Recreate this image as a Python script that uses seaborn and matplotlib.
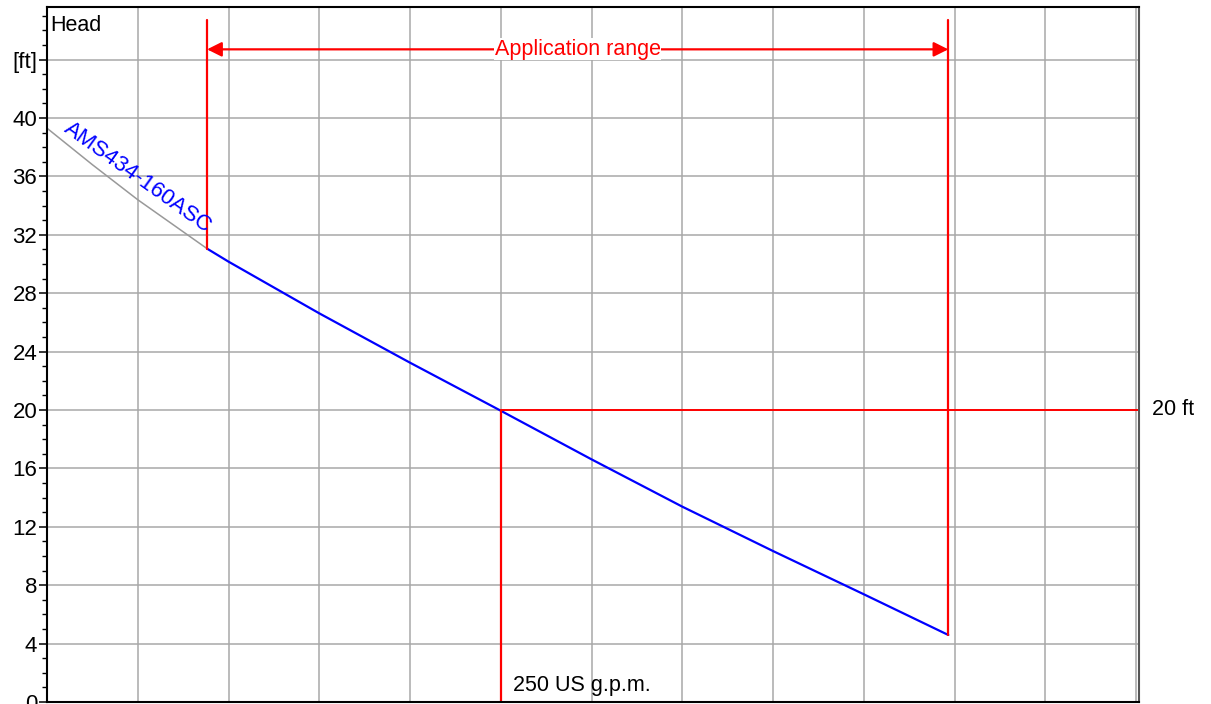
import matplotlib
matplotlib.use("Agg")
import matplotlib.pyplot as plt
import matplotlib.transforms as mtransforms
import seaborn as sns
import pandas as pd
import numpy as np

# ---- data ----
curve_name = "AMS434-160ASC"
gray_flow = [0, 25, 50, 88.2]
gray_head = [39.3, 36.8, 34.4, 31.05]
blue_flow = [88.2, 100, 150, 200, 250, 300, 350, 400, 450, 496.6]
blue_head = [31.05, 30.16, 26.62, 23.24, 19.95, 16.62, 13.38, 10.34, 7.38, 4.59]
app_range = [88.2, 496.6]
duty_flow = 250
duty_head = 20
yticks_major = [0, 4, 8, 12, 16, 20, 24, 28, 32, 36, 40, 44]
ytick_labels = ["0", "4", "8", "12", "16", "20", "24", "28", "32", "36", "40", "[ft]"]
xgrid = [0, 50, 100, 150, 200, 250, 300, 350, 400, 450, 500, 550, 600]

sns.set_style("white")
plt.rcParams['font.family'] = ['Liberation Sans', 'DejaVu Sans']
plt.rcParams['text.color'] = 'black'
plt.rcParams['ytick.color'] = 'black'
plt.rcParams['ytick.labelcolor'] = 'black'

fig = plt.figure(figsize=(12.11, 7.04), dpi=100)
ax = fig.add_axes([47/1211, 2/704, (1139-47)/1211, (702-7)/704])

gray_df = pd.DataFrame({"flow": gray_flow, "head": gray_head})
blue_df = pd.DataFrame({"flow": blue_flow, "head": blue_head})

ax.set_xlim(0, 601.65)
ax.set_ylim(0, 47.6)

# grid
ax.set_xticks(xgrid)
ax.set_yticks(yticks_major)
ax.set_yticklabels(ytick_labels)
ax.set_yticks(np.arange(0, 48, 1), minor=True)
ax.grid(True, which='major', color='#a8a8a8', linewidth=1.1)
ax.set_axisbelow(True)

ax.tick_params(axis='x', which='both', length=0, labelbottom=False)
ax.tick_params(axis='y', which='major', direction='out', length=6, width=1.1,
               labelsize=16, pad=1, color='black', labelcolor='black', left=True)
ax.tick_params(axis='y', which='minor', direction='out', length=3.5, width=1.0,
               color='black', left=True)

sns.lineplot(data=gray_df, x="flow", y="head", ax=ax, color='#999999', linewidth=1.1, sort=False)
sns.lineplot(data=blue_df, x="flow", y="head", ax=ax, color='#0000ff', linewidth=1.6, sort=False)
ax.set_xlabel("")
ax.set_ylabel("")

red = '#ff0000'
# application range verticals
top_v = 46.7
ax.plot([app_range[0], app_range[0]], [gray_head[-1], top_v], color=red, lw=1.6)
ax.plot([app_range[1], app_range[1]], [blue_head[-1], top_v], color=red, lw=1.6)
# arrow
arr_y = 44.7
ax.annotate("", xy=(app_range[0], arr_y), xytext=(app_range[1], arr_y),
            arrowprops=dict(arrowstyle='<|-|>', color=red, lw=1.6,
                            mutation_scale=22, shrinkA=0, shrinkB=0))
ax.text((app_range[0] + app_range[1]) / 2, arr_y, "Application range", color=red,
        fontsize=15.5, ha='center', va='center',
        bbox=dict(facecolor='white', edgecolor='none', pad=0.3))

# duty point lines
ax.plot([duty_flow, 601.65], [duty_head, duty_head], color=red, lw=1.4)
ax.plot([duty_flow, duty_flow], [0, duty_head], color=red, lw=1.6)
ax.text(256.6, 1.16, f"{duty_flow} US g.p.m.", fontsize=15.5, ha='left', va='center', color='black')
trans = mtransforms.blended_transform_factory(ax.transAxes, ax.transData)
ax.text(1.012, duty_head, f"{duty_head} ft", transform=trans, fontsize=15.5,
        ha='left', va='center', color='black')

# curve label
ax.text(8.8, 39.1, curve_name, color='#0000ff', fontsize=16, rotation=-35.5,
        rotation_mode='anchor', ha='left', va='baseline')

# "Head" label
ax.text(2.0, 46.3, "Head", fontsize=15.5, ha='left', va='center', color='black')

for side in ['left', 'bottom', 'top']:
    ax.spines[side].set_color('black')
    ax.spines[side].set_linewidth(1.5)
ax.spines['right'].set_color('#555555')
ax.spines['right'].set_linewidth(1.5)

fig.savefig("out.png", dpi=100)
